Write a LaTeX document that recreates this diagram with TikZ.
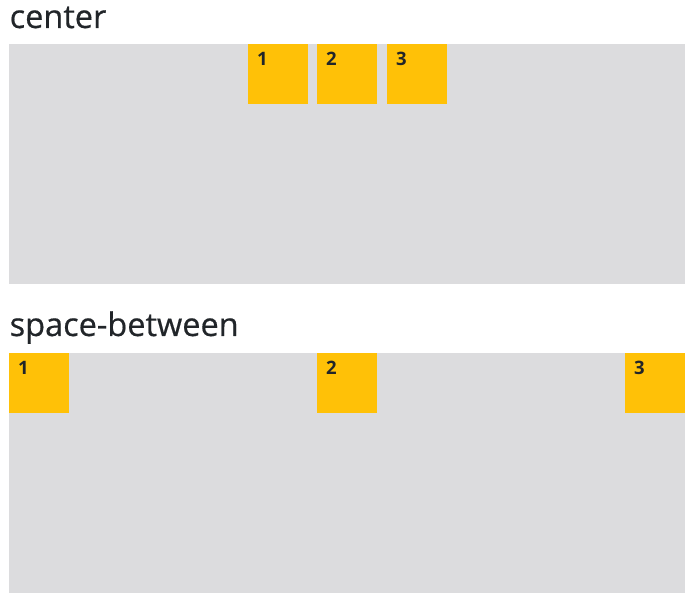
\documentclass[tikz,border=0pt]{standalone}
\usepackage{fontspec}
\setmainfont{Open Sans}
\newfontfamily\titlefont[FakeBold=0.5]{Open Sans}
\definecolor{panelgray}{RGB}{220,220,222}
\definecolor{boxyellow}{RGB}{255,193,7}
\definecolor{textdark}{RGB}{33,37,41}

\begin{document}
\begin{tikzpicture}[x=1pt, y=-1pt,
    panelstyle/.style={fill=panelgray, inner sep=0, minimum width=676pt, minimum height=240pt, anchor=north west},
    boxstyle/.style={fill=boxyellow, inner sep=0, minimum size=60pt, anchor=north west},
    numstyle/.style={anchor=base west, inner sep=0, text=textdark, font=\fontsize{18.5}{18.5}\selectfont\bfseries},
    titlestyle/.style={anchor=base west, inner sep=0, text=textdark, font=\titlefont\fontsize{32.5}{32.5}\selectfont}]
  \useasboundingbox (0,0) rectangle (694,609);

  % center
  \node [titlestyle] (tcenter) at (9.5,28) {center};
  \node [panelstyle] (pcenter) at (9,44) {};
  \foreach \x [count=\i] in {248,317,387}
    {\node [boxstyle] (c\i) at (\x,44) {};
     \node [numstyle] (cn\i) at (\x+9,66) {\i};}

  % space-between
  \node [titlestyle] (tbetween) at (9.5,336) {space-between};
  \node [panelstyle] (pbetween) at (9,353) {};
  \foreach \x [count=\i] in {9,317,625}
    {\node [boxstyle] (b\i) at (\x,353) {};
     \node [numstyle] (bn\i) at (\x+9,375) {\i};}
\end{tikzpicture}
\end{document}
